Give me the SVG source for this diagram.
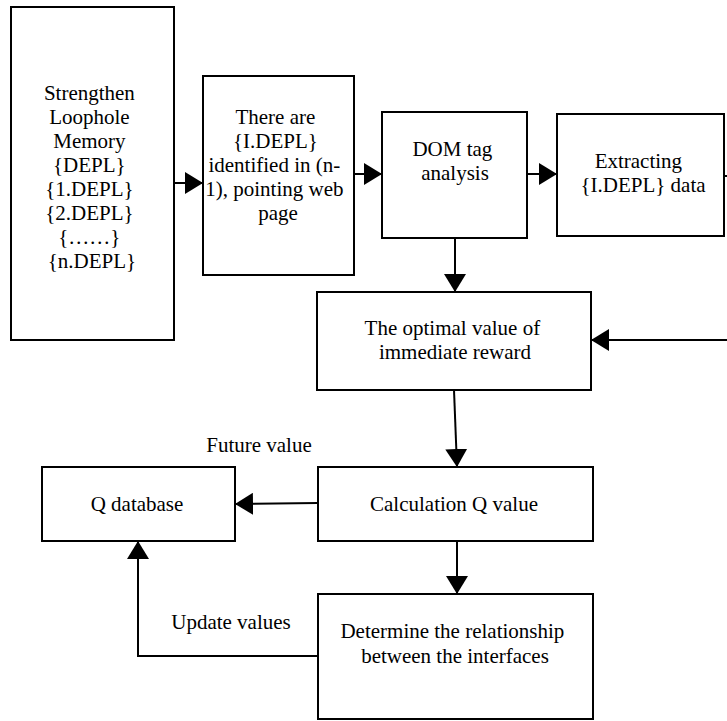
<svg xmlns="http://www.w3.org/2000/svg" width="727" height="721" viewBox="0 0 727 721">
  <style>
    .box { fill: #ffffff; stroke: #000000; stroke-width: 2; }
    .lbl { font-family: "Liberation Serif", "Times New Roman", serif; font-size: 21px; fill: #000000; text-anchor: middle; }
    .edge { fill: none; stroke: #000000; stroke-width: 2; }
  </style>
  <defs>
    <marker id="arrow" viewBox="0 0 18 22" refX="18" refY="11" markerWidth="18" markerHeight="22" markerUnits="userSpaceOnUse" orient="auto">
      <path d="M0,0 L18,11 L0,22 Z" fill="#000000"/>
    </marker>
  </defs>
  <rect width="727" height="721" fill="#ffffff"/>

  <g id="connectors">
    <line class="edge" x1="174" y1="183" x2="203" y2="183" marker-end="url(#arrow)"/>
    <line class="edge" x1="354" y1="174" x2="382" y2="174" marker-end="url(#arrow)"/>
    <line class="edge" x1="527" y1="174" x2="557" y2="174" marker-end="url(#arrow)"/>
    <line class="edge" x1="724" y1="176" x2="727" y2="176"/>
    <line class="edge" x1="455" y1="238" x2="455" y2="292" marker-end="url(#arrow)"/>
    <line class="edge" x1="727" y1="340" x2="591" y2="340" marker-end="url(#arrow)"/>
    <line class="edge" x1="454" y1="390" x2="457" y2="467" marker-end="url(#arrow)"/>
    <line class="edge" x1="318" y1="503" x2="235" y2="504" marker-end="url(#arrow)"/>
    <line class="edge" x1="457" y1="541" x2="457" y2="594" marker-end="url(#arrow)"/>
    <polyline class="edge" points="318,656 138,656 138,541" marker-end="url(#arrow)"/>
    <text class="lbl" x="259" y="452">Future value</text>
    <text class="lbl" x="231" y="629">Update values</text>
  </g>

  <g id="memory">
    <rect class="box" x="11" y="7" width="163" height="333"/>
    <text class="lbl">
      <tspan x="92" y="100">Strengthen</tspan>
      <tspan x="92" y="124">Loophole</tspan>
      <tspan x="92" y="148">Memory</tspan>
      <tspan x="92" y="172">{DEPL}</tspan>
      <tspan x="92" y="196">{1.DEPL}</tspan>
      <tspan x="92" y="220">{2.DEPL}</tspan>
      <tspan x="92" y="244">{……}</tspan>
      <tspan x="92" y="268">{n.DEPL}</tspan>
    </text>
  </g>

  <g id="identified">
    <rect class="box" x="203" y="76" width="151" height="199"/>
    <text class="lbl">
      <tspan x="278" y="124">There are</tspan>
      <tspan x="278" y="148">{I.DEPL}</tspan>
      <tspan x="277" y="172">identified in (n-</tspan>
      <tspan x="277" y="196">1), pointing web</tspan>
      <tspan x="278" y="220">page</tspan>
    </text>
  </g>

  <g id="dom">
    <rect class="box" x="382" y="112" width="145" height="126"/>
    <text class="lbl">
      <tspan x="455" y="156">DOM tag</tspan>
      <tspan x="455" y="180">analysis</tspan>
    </text>
  </g>

  <g id="extracting">
    <rect class="box" x="557" y="114" width="167" height="122"/>
    <text class="lbl">
      <tspan x="641" y="168">Extracting</tspan>
      <tspan x="643" y="192">{I.DEPL} data</tspan>
    </text>
  </g>

  <g id="reward">
    <rect class="box" x="317" y="292" width="274" height="98"/>
    <text class="lbl">
      <tspan x="455" y="335">The optimal value of</tspan>
      <tspan x="455" y="359">immediate reward</tspan>
    </text>
  </g>

  <g id="qdb">
    <rect class="box" x="42" y="467" width="193" height="74"/>
    <text class="lbl" x="137" y="511">Q database</text>
  </g>

  <g id="calc">
    <rect class="box" x="318" y="467" width="275" height="74"/>
    <text class="lbl" x="454" y="511">Calculation Q value</text>
  </g>

  <g id="relation">
    <rect class="box" x="318" y="594" width="275" height="125"/>
    <text class="lbl">
      <tspan x="455" y="638">Determine the relationship</tspan>
      <tspan x="455" y="663">between the interfaces</tspan>
    </text>
  </g>
</svg>
